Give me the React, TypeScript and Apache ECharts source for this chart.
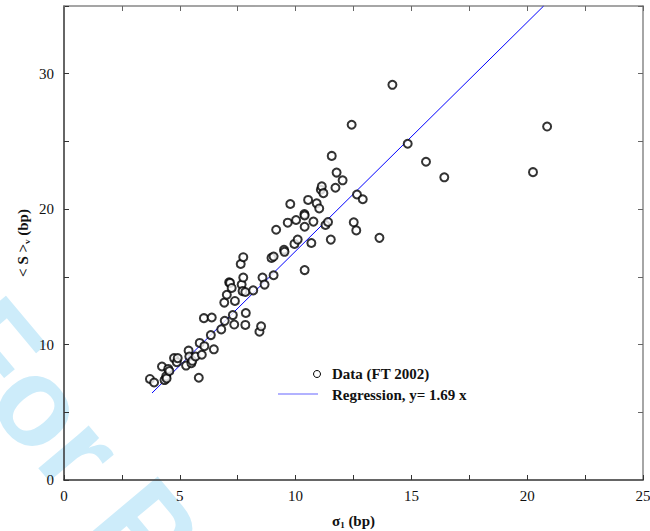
import React, { useEffect, useRef } from "react";
import * as echarts from "echarts";

const sigma1: number[] = [
  3.71, 3.89, 4.23, 4.34, 4.41, 4.43, 4.5, 4.55, 4.75, 4.87, 4.91, 5.27, 5.38, 5.41, 5.5,
  5.54, 5.68, 5.82, 5.86, 5.95, 6.04, 6.06, 6.34, 6.38, 6.47, 6.79, 6.92, 6.94, 7.03, 7.13,
  7.17, 7.24, 7.29, 7.35, 7.38, 7.63, 7.67, 7.71, 7.74, 7.74, 7.83, 7.83, 7.85, 8.17, 8.44,
  8.51, 8.57, 8.66, 8.96, 9.05, 9.05, 9.16, 9.5, 9.52, 9.66, 9.77, 9.95, 10.02, 10.09, 10.38,
  10.39, 10.39, 10.39, 10.54, 10.68, 10.77, 10.91, 11.02, 11.09, 11.13, 11.2, 11.29, 11.4, 11.52, 11.56,
  11.72, 11.77, 12.03, 12.42, 12.51, 12.62, 12.65, 12.9, 13.62, 14.18, 14.84, 15.63, 16.42, 20.25, 20.86,
];
const spreadS: number[] = [
  7.46, 7.2, 8.38, 7.38, 7.65, 7.5, 8.2, 8.05, 9.0, 8.7, 9.0, 8.45, 9.55, 9.12, 8.62,
  8.8, 9.12, 7.55, 10.12, 9.25, 11.95, 9.88, 10.7, 12.0, 9.65, 11.12, 13.1, 11.75, 13.68, 14.6,
  14.55, 14.18, 12.18, 11.48, 13.22, 15.95, 14.43, 13.95, 16.45, 14.95, 13.88, 11.45, 12.33, 14.0, 10.95,
  11.35, 14.95, 14.43, 16.4, 16.5, 15.12, 18.48, 17.0, 16.85, 19.0, 20.38, 17.43, 19.2, 17.75, 19.63,
  19.53, 18.7, 15.5, 20.68, 17.5, 19.08, 20.43, 20.05, 21.43, 21.68, 21.18, 18.83, 19.05, 17.75, 23.93,
  21.58, 22.7, 22.13, 26.23, 19.03, 18.43, 21.08, 20.73, 17.88, 29.18, 24.83, 23.5, 22.35, 22.73, 26.1,
];
const slope = 1.69;
const regStartX = 3.8;
const xTicks = [0, 5, 10, 15, 20, 25];
const yTicks = [0, 10, 20, 30];
const xMax = 25;
const yMax = 35;

const serif = "'Liberation Serif', 'DejaVu Serif', serif";

export default function App() {
  const ref = useRef<HTMLDivElement>(null);
  useEffect(() => {
    document.body.style.margin = "0";
    document.body.style.overflow = "hidden";
    const chart = echarts.init(ref.current!, null, { renderer: "svg", width: 650, height: 531 });
    const scatterData = sigma1.map((x, i) => [x, spreadS[i]]);
    const regEndX = yMax / slope;
    const regData = [
      [regStartX, slope * regStartX],
      [regEndX, slope * regEndX],
    ];
    const labelStyle = { fontFamily: serif, fontSize: 15, color: "#111" };
    const darkLine = { show: true, onZero: false, lineStyle: { color: "#333", width: 1.5 } };
    const lightLine = { show: true, onZero: false, lineStyle: { color: "#888", width: 1.5 } };
    const tickIn = (color: string) => ({ show: true, inside: true, length: 5, lineStyle: { color, width: 1 } });
    const nameRich = {
      a: { fontFamily: serif, fontWeight: "bold", fontSize: 15, color: "#111" },
      s: { fontFamily: serif, fontWeight: "bold", fontSize: 9, color: "#111", padding: [8, 0, 0, 0] },
    };
    chart.setOption({
      animation: false,
      backgroundColor: "#fff",
      grid: { left: 64, right: 7, top: 6, bottom: 51, containLabel: false, outerBoundsMode: "none" },
      xAxis: [
        {
          type: "value",
          position: "bottom",
          min: 0,
          max: xMax,
          interval: 2.5,
          axisLine: darkLine,
          axisTick: tickIn("#333"),
          splitLine: { show: false },
          axisLabel: {
            ...labelStyle,
            margin: 8,
            formatter: (v: number) => (xTicks.includes(v) ? String(v) : ""),
          },
          name: "{a|σ}{s|1}{a| (bp)}",
          nameLocation: "middle",
          nameGap: 32,
          nameMoveOverlap: false,
          nameTextStyle: { rich: nameRich },
        },
        {
          type: "value",
          position: "top",
          min: 0,
          max: xMax,
          interval: 2.5,
          axisLine: lightLine,
          axisTick: tickIn("#666"),
          splitLine: { show: false },
          axisLabel: { show: false },
        },
      ],
      yAxis: [
        {
          type: "value",
          position: "left",
          min: 0,
          max: yMax,
          interval: 5,
          axisLine: darkLine,
          axisTick: tickIn("#333"),
          splitLine: { show: false },
          axisLabel: {
            ...labelStyle,
            margin: 10,
            formatter: (v: number) => (yTicks.includes(v) ? String(v) : ""),
          },
          name: "{a|< S >}{s|v}{a| (bp)}",
          nameLocation: "middle",
          nameGap: 33,
          nameMoveOverlap: false,
          nameRotate: 90,
          nameTextStyle: { rich: nameRich },
        },
        {
          type: "value",
          position: "right",
          min: 0,
          max: yMax,
          interval: 5,
          axisLine: lightLine,
          axisTick: tickIn("#666"),
          splitLine: { show: false },
          axisLabel: { show: false },
        },
      ],
      series: [
        {
          name: "Data (FT 2002)",
          type: "scatter",
          data: scatterData,
          symbol: "emptyCircle",
          symbolSize: 8,
          itemStyle: { color: "#000", borderColor: "#000", borderWidth: 0.75 },
          z: 3,
        },
        {
          name: "Regression, y= 1.69 x",
          type: "line",
          data: regData,
          showSymbol: false,
          symbol: "none",
          lineStyle: { color: "#0000ff", width: 1 },
          z: 2,
        },
      ],
      graphic: [
        {
          type: "text",
          x: -60,
          y: 340,
          rotation: (-50 * Math.PI) / 180,
          z: -10,
          silent: true,
          style: {
            text: "For Peer Review",
            font: "bold 125px 'Liberation Sans', Arial, sans-serif",
            fill: "rgb(205,236,250)",
            textAlign: "left",
            textVerticalAlign: "bottom",
            y: 26,
          },
        },
        {
          type: "circle",
          shape: { cx: 317, cy: 374, r: 3.5 },
          style: { fill: "#fff", stroke: "#000", lineWidth: 1 },
          z: 10,
        },
        {
          type: "text",
          x: 332,
          y: 374,
          z: 10,
          style: {
            text: "Data (FT 2002)",
            font: `bold 15px ${serif}`,
            fill: "#111",
            textAlign: "left",
            textVerticalAlign: "middle",
          },
        },
        {
          type: "line",
          shape: { x1: 278, y1: 394, x2: 318, y2: 394 },
          style: { stroke: "#6666ff", lineWidth: 1.2 },
          z: 10,
        },
        {
          type: "text",
          x: 332,
          y: 395,
          z: 10,
          style: {
            text: "Regression, y= 1.69 x",
            font: `bold 15px ${serif}`,
            fill: "#111",
            textAlign: "left",
            textVerticalAlign: "middle",
          },
        },
      ],
    });
    return () => chart.dispose();
  }, []);
  return <div ref={ref} style={{ width: 650, height: 531, overflow: "hidden" }} />;
}
